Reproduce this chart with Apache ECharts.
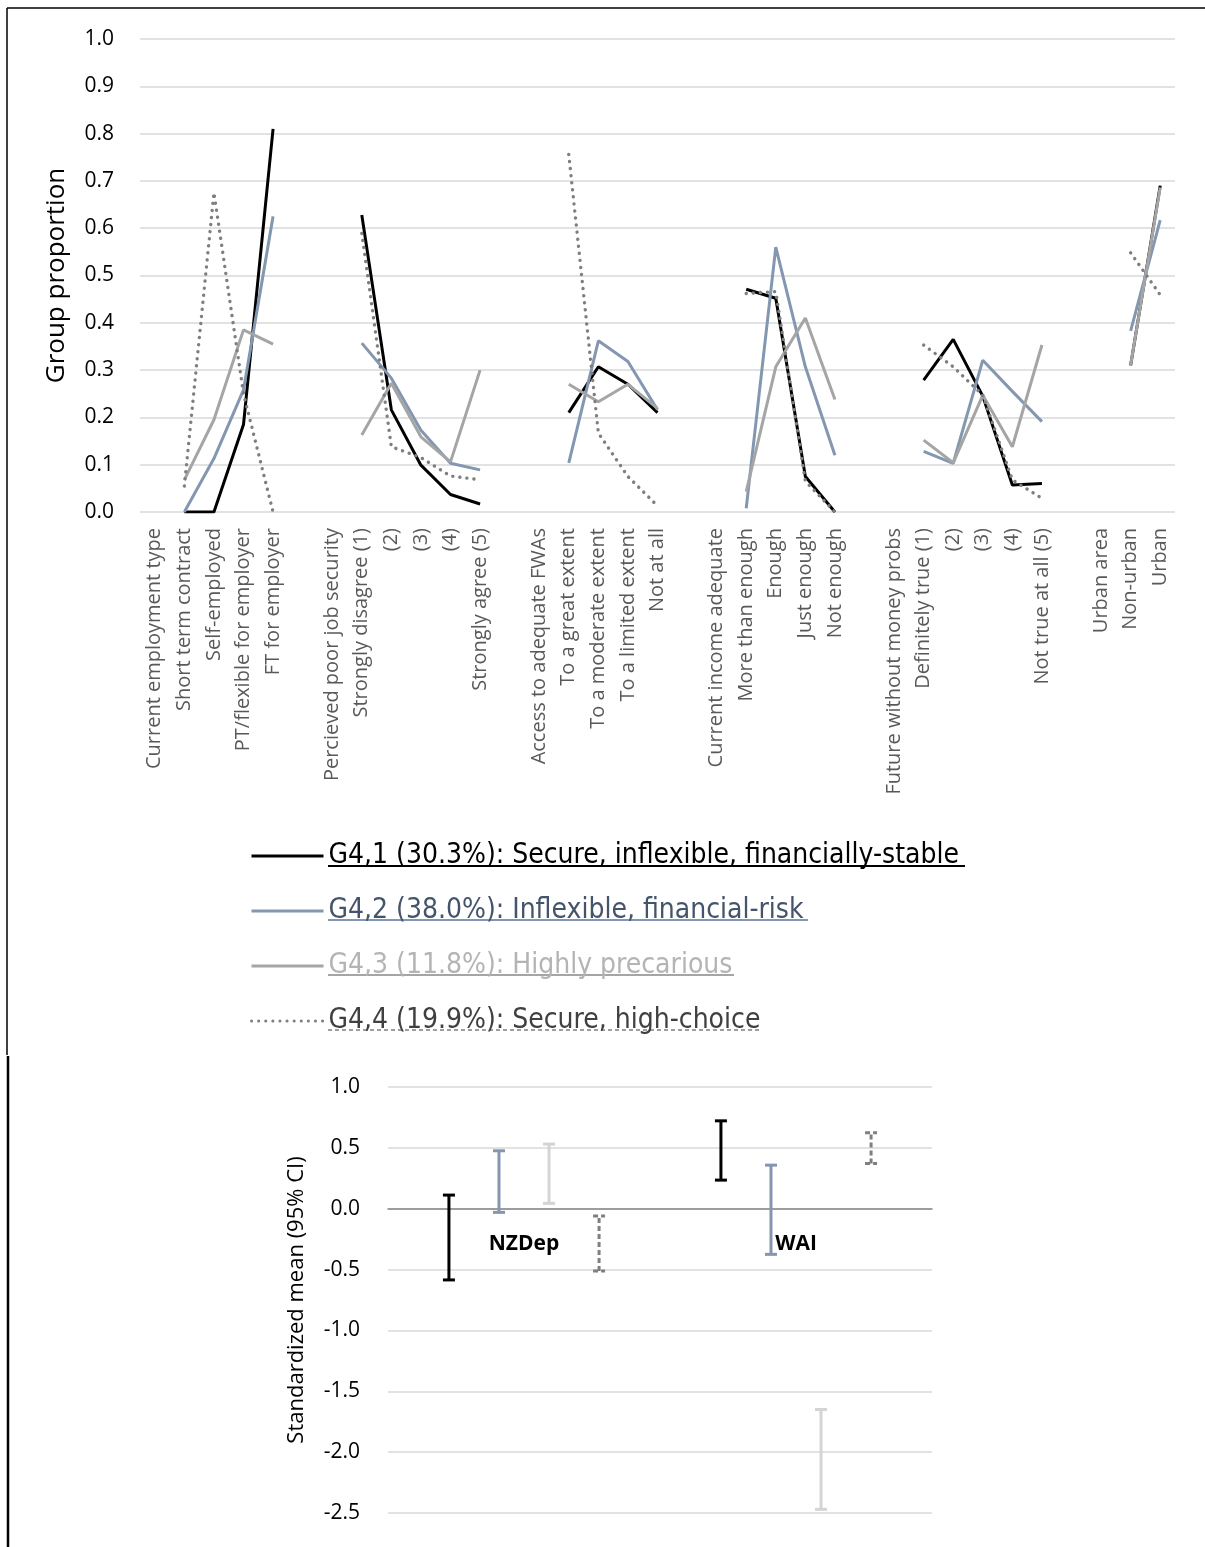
<!DOCTYPE html>
<html><head><meta charset="utf-8">
<script src="https://cdn.jsdelivr.net/npm/echarts@6/dist/echarts.min.js"></script>
<style>html,body{margin:0;padding:0;background:#fff}#c{width:1205px;height:1547px}</style>
</head><body><div id="c"></div>
<script>
// ---------- top chart data ----------
const categories = [
  'Current employment type','Short term contract','Self-employed','PT/flexible for employer','FT for employer','',
  'Percieved poor job security','Strongly disagree (1)','(2)','(3)','(4)','Strongly agree (5)','',
  'Access to adequate FWAs','To a great extent','To a moderate extent','To a limited extent','Not at all','',
  'Current income adequate','More than enough','Enough','Just enough','Not enough','',
  'Future without money probs','Definitely true (1)','(2)','(3)','(4)','Not true at all (5)','',
  'Urban area','Non-urban','Urban'
];
const seriesNames = [
  'G4,1 (30.3%): Secure, inflexible, financially-stable',
  'G4,2 (38.0%): Inflexible, financial-risk',
  'G4,3 (11.8%): Highly precarious',
  'G4,4 (19.9%): Secure, high-choice'
];
const g41 = [null,0.00,0.00,0.185,0.81,null, null,0.628,0.216,0.099,0.037,0.017,null, null,0.21,0.307,0.27,0.21,null, null,0.471,0.452,0.075,0.0,null, null,0.279,0.365,0.245,0.057,0.06,null, null,0.31,0.69];
const g42 = [null,0.00,0.113,0.258,0.625,null, null,0.357,0.283,0.173,0.103,0.089,null, null,0.104,0.362,0.318,0.216,null, null,0.008,0.56,0.307,0.12,null, null,0.128,0.103,0.321,0.255,0.191,null, null,0.383,0.617];
const g43 = [null,0.068,0.195,0.385,0.355,null, null,0.163,0.272,0.159,0.106,0.30,null, null,0.27,0.233,0.27,0.219,null, null,0.043,0.307,0.41,0.238,null, null,0.152,0.104,0.247,0.138,0.353,null, null,0.311,0.686];
const g44 = [null,0.055,0.675,0.25,0.0,null, null,0.589,0.138,0.115,0.076,0.068,null, null,0.756,0.167,0.075,0.013,null, null,0.462,0.466,0.065,0.0,null, null,0.353,0.307,0.247,0.068,0.029,null, null,0.548,0.459];

// ---------- bottom chart data ----------
const errCategories = ['NZDep','WAI'];
const err41Low  = [-0.585, 0.235];
const err41High = [ 0.112, 0.722];
const err42Low  = [-0.030,-0.375];
const err42High = [ 0.476, 0.358];
const err43Low  = [ 0.044,-2.47];
const err43High = [ 0.531,-1.65];
const err44Low  = [-0.512, 0.372];
const err44High = [-0.060, 0.624];
const errYMin = -2.5, errYMax = 1;

const chart = echarts.init(document.getElementById('c'));

const lineColors = ['#000000','#8497B0','#A5A5A5','#7F7F7F'];
const legendTextColors = ['#000000','#44546A','#B4B4B4','#404040'];
const errColors = ['#000000','#8497B0','#D4D4D4','#7F7F7F'];

function errRender(offsetFrac, color, dash){
  return function(params, api){
    const x = api.value(0);
    const lo = api.coord([x, api.value(1)]);
    const hi = api.coord([x, api.value(2)]);
    const bw = api.size([1,0])[0];
    const cx = lo[0] + bw*offsetFrac;
    const cap = 6;
    const style = {stroke: color, lineWidth: 3, lineDash: dash || null, fill: null};
    return {type:'group', children:[
      {type:'line', shape:{x1:cx,y1:lo[1],x2:cx,y2:hi[1]}, style:style},
      {type:'line', shape:{x1:cx-cap,y1:lo[1],x2:cx+cap,y2:lo[1]}, style:style},
      {type:'line', shape:{x1:cx-cap,y1:hi[1],x2:cx+cap,y2:hi[1]}, style:style}
    ]};
  };
}
function errData(lo, hi){ return lo.map((v,i)=>[i, v, hi[i]]); }

const legendFont = "'Liberation Sans Narrow','DejaVu Sans Condensed','Open Sans',sans-serif";
const grid2Height = 426;
// move the category axis of the lower panel up to the zero line
const zeroOffset = -grid2Height * (0 - errYMin) / (errYMax - errYMin);

const option = {
  backgroundColor:'#fff',
  animation:false,
  grid:[
    {left:140, right:30, top:39, height:473},
    {left:388, right:273, top:1087, height:grid2Height}
  ],
  xAxis:[
    {type:'category', gridIndex:0, data:categories, boundaryGap:true,
     axisLine:{show:false}, axisTick:{show:false},
     axisLabel:{interval:0, rotate:90, margin:16, fontSize:20, color:'#595959', fontFamily:'Open Sans'}},
    {type:'category', gridIndex:1, data:errCategories, boundaryGap:true, position:'bottom', offset:zeroOffset,
     axisLine:{onZero:false, lineStyle:{color:'#868686', width:1.5}}, axisTick:{show:false},
     axisLabel:{margin:25, fontSize:21, fontWeight:'bold', color:'#000', fontFamily:'Open Sans'}}
  ],
  yAxis:[
    {type:'value', gridIndex:0, min:0, max:1, interval:0.1,
     name:'Group proportion', nameLocation:'middle', nameGap:70,
     nameTextStyle:{fontSize:26, color:'#000', fontFamily:'Open Sans'},
     axisLine:{show:false}, axisTick:{show:false},
     axisLabel:{margin:26, fontSize:21, color:'#000', fontFamily:'Open Sans', formatter:v=>v.toFixed(1)},
     splitLine:{lineStyle:{color:'#D9D9D9', width:1.5}}},
    {type:'value', gridIndex:1, min:errYMin, max:errYMax, interval:0.5,
     name:'Standardized mean (95% CI)', nameLocation:'middle', nameGap:80,
     nameTextStyle:{fontSize:22, color:'#000', fontFamily:'Open Sans'},
     axisLine:{show:false}, axisTick:{show:false},
     axisLabel:{margin:28, fontSize:21, color:'#000', fontFamily:'Open Sans', formatter:v=>(v<0?'':' ')+v.toFixed(1)},
     splitLine:{lineStyle:{color:'#D9D9D9', width:1.5}}}
  ],
  legend:{
    orient:'vertical', left:245, top:836, itemWidth:72, itemHeight:30, itemGap:25,
    itemStyle:{opacity:0},
    lineStyle:{width:3},
    data: seriesNames.map((n,i)=>({name:n, textStyle:{color:legendTextColors[i]}})),
    textStyle:{fontSize:28, lineHeight:30, fontFamily:legendFont}
  },
  series:[
    {name:seriesNames[0], type:'line', xAxisIndex:0, yAxisIndex:0, data:g41, symbol:'none', connectNulls:false,
     lineStyle:{color:lineColors[0], width:3}, itemStyle:{color:lineColors[0]}, z:2},
    {name:seriesNames[1], type:'line', xAxisIndex:0, yAxisIndex:0, data:g42, symbol:'none', connectNulls:false,
     lineStyle:{color:lineColors[1], width:3}, itemStyle:{color:lineColors[1]}, z:3},
    {name:seriesNames[2], type:'line', xAxisIndex:0, yAxisIndex:0, data:g43, symbol:'none', connectNulls:false,
     lineStyle:{color:lineColors[2], width:3}, itemStyle:{color:lineColors[2]}, z:4},
    {name:seriesNames[3], type:'line', xAxisIndex:0, yAxisIndex:0, data:g44, symbol:'none', connectNulls:false,
     lineStyle:{color:lineColors[3], width:3.4, type:[0.1,7], cap:'round'}, itemStyle:{color:lineColors[3]}, z:5},
    {type:'custom', xAxisIndex:1, yAxisIndex:1, data:errData(err41Low, err41High), encode:{x:0,y:[1,2]},
     renderItem:errRender(-0.276, errColors[0]), z:5},
    {type:'custom', xAxisIndex:1, yAxisIndex:1, data:errData(err42Low, err42High), encode:{x:0,y:[1,2]},
     renderItem:errRender(-0.092, errColors[1]), z:5},
    {type:'custom', xAxisIndex:1, yAxisIndex:1, data:errData(err43Low, err43High), encode:{x:0,y:[1,2]},
     renderItem:errRender(0.092, errColors[2]), z:5},
    {type:'custom', xAxisIndex:1, yAxisIndex:1, data:errData(err44Low, err44High), encode:{x:0,y:[1,2]},
     renderItem:errRender(0.276, errColors[3], [5,3]), z:5}
  ],
  graphic:[
    {type:'line', shape:{x1:7,y1:8,x2:1205,y2:8}, style:{stroke:'#000', lineWidth:1.5}},
    {type:'line', shape:{x1:7,y1:8,x2:7,y2:1055}, style:{stroke:'#000', lineWidth:1.5}},
    {type:'line', shape:{x1:8,y1:1056,x2:8,y2:1547}, style:{stroke:'#000', lineWidth:2.5}},
    {type:'line', shape:{x1:328,y1:866,x2:965,y2:866}, style:{stroke:'#000', lineWidth:2}},
    {type:'line', shape:{x1:328,y1:920,x2:808,y2:920}, style:{stroke:'#8497B0', lineWidth:2}},
    {type:'line', shape:{x1:328,y1:975,x2:734,y2:975}, style:{stroke:'#A5A5A5', lineWidth:2}},
    {type:'line', shape:{x1:328,y1:1030,x2:762,y2:1030}, style:{stroke:'#7F7F7F', lineWidth:1.5, lineDash:[4,3]}}
  ]
};
chart.setOption(option);
</script></body></html>
